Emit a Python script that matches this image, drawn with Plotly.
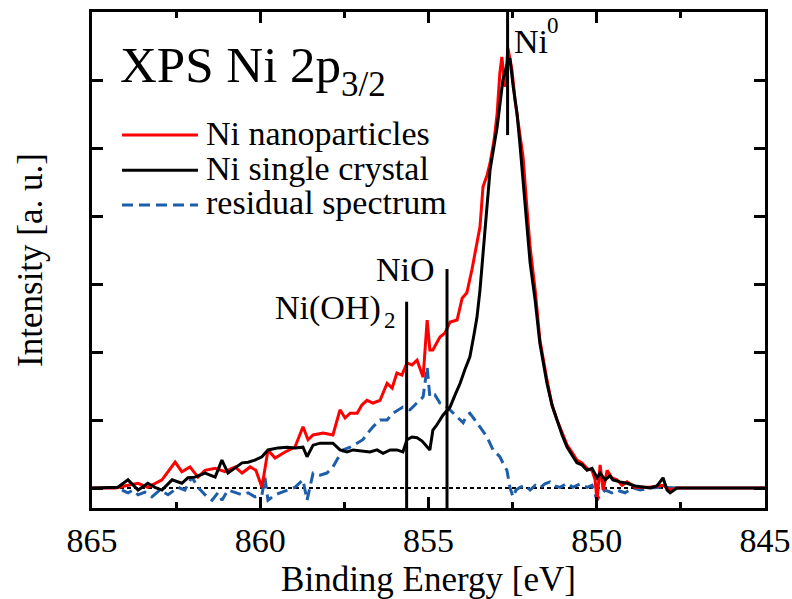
import plotly.graph_objects as go

# ---- data (binding energy in eV, intensity in arbitrary units) ----
nano_x = [865.00, 864.29, 863.93, 863.63, 863.34, 862.92, 862.53, 862.33, 862.09, 861.85,
          861.64, 861.34, 861.05, 860.75, 860.54, 860.30, 860.13, 859.95, 859.77, 859.56,
          859.26, 858.97, 858.73, 858.58, 858.43, 858.13, 857.84, 857.63, 857.48, 857.33,
          857.12, 856.98, 856.83, 856.65, 856.44, 856.23, 856.08, 855.94, 855.79, 855.64,
          855.49, 855.34, 855.16, 855.04, 854.96, 854.87, 854.66, 854.51, 854.36, 854.15,
          854.00, 853.86, 853.71, 853.59, 853.47, 853.38, 853.26, 853.17, 853.05, 852.96,
          852.88, 852.82, 852.73, 852.64, 852.52, 852.43, 852.31, 852.19, 852.07, 851.98,
          851.83, 851.69, 851.48, 851.33, 851.18, 851.03, 850.88, 850.74, 850.59, 850.44,
          850.29, 850.14, 850.05, 849.99, 849.90, 849.81, 849.69, 849.55, 849.40, 849.25,
          849.10, 848.86, 848.42, 848.03, 847.82, 847.62, 845.00]
nano_y = [0.00, 0.00, 0.04, 0.07, 0.01, 0.12, 0.38, 0.24, 0.31, 0.16,
          0.26, 0.29, 0.24, 0.31, 0.22, 0.31, 0.26, 0.01, 0.56, 0.44,
          0.53, 0.60, 0.90, 0.71, 0.78, 0.81, 0.78, 1.15, 1.03, 1.10,
          1.10, 1.22, 1.29, 1.25, 1.29, 1.54, 1.47, 1.69, 1.66, 1.84,
          1.81, 1.88, 1.63, 2.47, 2.03, 2.03, 2.22, 2.28, 2.44, 2.47,
          2.79, 2.87, 3.21, 3.50, 3.84, 4.43, 4.60, 4.78, 5.12, 5.51,
          6.10, 6.34, 5.90, 6.47, 6.15, 5.71, 5.26, 4.87, 4.09, 3.54,
          2.91, 2.18, 1.59, 1.22, 1.00, 0.82, 0.63, 0.53, 0.41, 0.37,
          0.29, 0.26, 0.12, -0.18, 0.34, -0.03, 0.26, 0.15, 0.12, 0.04,
          0.09, 0.01, 0.01, 0.04, -0.03, 0.00, 0.00]

crystal_x = [865.00, 864.23, 863.93, 863.63, 863.34, 863.13, 862.92, 862.62, 862.33, 862.15,
             861.94, 861.64, 861.34, 861.14, 860.96, 860.75, 860.54, 860.36, 860.16, 859.95,
             859.77, 859.47, 859.21, 858.97, 858.73, 858.61, 858.43, 858.22, 857.84, 857.63,
             857.42, 857.24, 856.98, 856.74, 856.53, 856.35, 856.14, 855.94, 855.76, 855.64,
             855.49, 855.34, 855.19, 855.04, 854.96, 854.87, 854.75, 854.57, 854.36, 854.21,
             854.06, 853.92, 853.77, 853.65, 853.56, 853.47, 853.38, 853.26, 853.17, 853.05,
             852.96, 852.88, 852.79, 852.67, 852.58, 852.49, 852.37, 852.28, 852.19, 852.07,
             851.98, 851.83, 851.69, 851.48, 851.33, 851.18, 851.03, 850.88, 850.74, 850.59,
             850.44, 850.29, 850.14, 849.99, 849.90, 849.75, 849.61, 849.52, 849.31, 849.10,
             848.86, 848.63, 848.42, 848.21, 848.03, 847.91, 847.82, 847.62, 845.00]
crystal_y = [0.00, 0.01, 0.12, -0.03, 0.07, 0.01, -0.03, 0.12, 0.07, 0.15,
             0.16, 0.22, 0.16, 0.41, 0.22, 0.29, 0.37, 0.38, 0.41, 0.46,
             0.56, 0.59, 0.60, 0.59, 0.60, 0.46, 0.63, 0.66, 0.66, 0.56,
             0.53, 0.56, 0.54, 0.53, 0.56, 0.51, 0.56, 0.56, 0.53, 0.71,
             0.75, 0.74, 0.69, 0.60, 0.56, 0.85, 0.93, 1.07, 1.19, 1.37,
             1.54, 1.74, 1.93, 2.25, 2.51, 2.91, 3.43, 4.16, 4.68, 5.04,
             5.31, 5.63, 6.00, 6.22, 6.32, 5.93, 5.51, 5.04, 4.53, 3.79,
             3.31, 2.76, 2.13, 1.54, 1.22, 1.00, 0.78, 0.60, 0.49, 0.37,
             0.34, 0.26, 0.29, 0.15, 0.22, 0.12, 0.18, 0.12, 0.09, 0.07,
             0.03, 0.01, 0.00, 0.03, 0.15, -0.03, -0.07, 0.00, 0.00]

resid_x = [864.11, 863.93, 863.78, 863.63, 863.43, 863.22, 862.98, 862.74, 862.44, 862.24,
           862.03, 861.85, 861.64, 861.43, 861.26, 861.14, 860.96, 860.75, 860.54, 860.36,
           860.16, 859.95, 859.86, 859.77, 859.56, 859.35, 859.21, 858.97, 858.73, 858.61,
           858.43, 858.22, 858.02, 857.84, 857.69, 857.54, 857.33, 857.12, 856.95, 856.80,
           856.65, 856.44, 856.23, 856.06, 855.91, 855.76, 855.55, 855.34, 855.16, 855.04,
           854.96, 854.81, 854.66, 854.51, 854.36, 854.15, 853.97, 853.86, 853.77, 853.62,
           853.47, 853.26, 853.08, 852.88, 852.76, 852.67, 852.58, 852.49, 852.40, 852.28,
           852.13, 851.98, 851.83, 851.69, 851.54, 851.39, 851.24, 851.09, 850.88, 850.71,
           850.50, 850.29, 850.14, 849.99, 849.90, 849.75, 849.55, 849.40, 849.16, 848.92,
           848.71, 848.42, 848.12, 847.82, 847.62]
resid_y = [-0.03, -0.07, -0.03, -0.10, -0.06, -0.13, -0.03, -0.10, 0.01, -0.03,
           0.16, 0.01, -0.10, -0.18, -0.07, -0.18, -0.03, -0.06, -0.10, -0.07,
           -0.13, -0.10, 0.15, -0.18, -0.10, -0.06, -0.03, 0.01, 0.12, -0.18,
           0.22, 0.19, 0.22, 0.31, 0.44, 0.56, 0.60, 0.66, 0.71, 0.81,
           0.90, 1.00, 1.00, 1.10, 1.15, 1.19, 1.15, 1.25, 1.34, 1.78,
           1.34, 1.37, 1.25, 1.22, 1.15, 1.04, 0.96, 1.07, 1.10, 1.00,
           0.90, 0.75, 0.56, 0.46, 0.34, 0.26, 0.01, -0.13, -0.03, 0.01,
           0.04, -0.03, 0.04, 0.00, 0.06, 0.09, 0.03, 0.01, 0.07, 0.01,
           0.06, 0.01, 0.04, -0.18, -0.10, -0.03, -0.07, -0.03, -0.07, 0.00,
           -0.03, 0.00, 0.01, 0.00, 0.00]

baseline_x = [865.0, 845.0]
baseline_y = [0.0, 0.0]

# reference peak positions (eV) and marker-line extents
peak_pos = [852.65, 854.45, 855.65]
peak_low = [5.19, -0.3, -0.3]
peak_high = [7.0, 3.22, 2.74]

legend_names = ["Ni nanoparticles", "Ni single crystal", "residual spectrum"]

FONT = "Liberation Serif"
RED = "#FF0000"
BLACK = "#000000"
BLUE = "#1E5DAA"


def tfont(size):
    return dict(family=FONT, size=size, color=BLACK)


def label(x, y, text, size, xanchor="left", ref="data"):
    kw = dict(xref="paper", yref="paper") if ref == "paper" else {}
    fig.add_annotation(x=x, y=y, text=text, showarrow=False, xanchor=xanchor, yanchor="middle",
                       font=tfont(size), borderpad=0, **kw)


fig = go.Figure()

fig.add_trace(go.Scatter(x=baseline_x, y=baseline_y, mode="lines",
                         line=dict(color=BLACK, width=2, dash="4px,3px"), showlegend=False))
fig.add_trace(go.Scatter(x=resid_x, y=resid_y, mode="lines", name=legend_names[2],
                         line=dict(color=BLUE, width=3, dash="11px,6px"), showlegend=False))
fig.add_trace(go.Scatter(x=nano_x, y=nano_y, mode="lines", name=legend_names[0],
                         line=dict(color=RED, width=3), showlegend=False))
fig.add_trace(go.Scatter(x=crystal_x, y=crystal_y, mode="lines", name=legend_names[1],
                         line=dict(color=BLACK, width=3), showlegend=False))

for p, lo, hi in zip(peak_pos, peak_low, peak_high):
    fig.add_trace(go.Scatter(x=[p, p], y=[lo, hi], mode="lines",
                             line=dict(color=BLACK, width=3), showlegend=False))

# peak labels (super/subscripts as separate smaller texts)
label(852.49, 6.57, "Ni", 34)
label(851.50, 6.80, "0", 23)
label(854.78, 3.22, "NiO", 34, xanchor="right")
label(856.38, 2.64, "Ni(OH)", 34, xanchor="right")
label(856.36, 2.47, "2", 23)

# panel title
label(0.040, 0.893, "XPS Ni 2p", 51, ref="paper")
label(0.368, 0.853, "3/2", 35, ref="paper")

# manual legend
leg_colors = [RED, BLACK, BLUE]
leg_dash = ["solid", "solid", "11px,6px"]
leg_y = [0.752, 0.681, 0.611]
for name, c, d, yy in zip(legend_names, leg_colors, leg_dash, leg_y):
    fig.add_shape(type="line", xref="paper", yref="paper", x0=0.0446, x1=0.1575, y0=yy, y1=yy,
                  line=dict(color=c, width=3, dash=d))
    label(0.168, yy + 0.004, name, 34, ref="paper")

fig.update_xaxes(range=[865, 845], tickvals=[865, 860, 855, 850, 845],
                 ticks="inside", ticklen=11, tickwidth=2.5, tickcolor=BLACK,
                 minor=dict(dtick=2.5, tick0=845, ticks="inside", ticklen=6, tickwidth=2.5, tickcolor=BLACK),
                 showline=True, linewidth=3, linecolor=BLACK, mirror="ticks",
                 showgrid=False, zeroline=False,
                 tickfont=tfont(34),
                 title=dict(text="Binding Energy [eV]", font=tfont(35), standoff=9))
fig.update_yaxes(range=[-0.294, 7.0], dtick=1, tick0=0, showticklabels=False,
                 ticks="inside", ticklen=11, tickwidth=2.5, tickcolor=BLACK,
                 showline=True, linewidth=3, linecolor=BLACK, mirror="ticks",
                 showgrid=False, zeroline=False,
                 title=dict(text="Intensity [a. u.]", font=tfont(35), standoff=36))

fig.update_layout(width=792, height=599, margin=dict(l=92, r=27, t=12, b=91, autoexpand=False),
                  paper_bgcolor="white", plot_bgcolor="white", showlegend=False)

fig.write_html("out.html")
